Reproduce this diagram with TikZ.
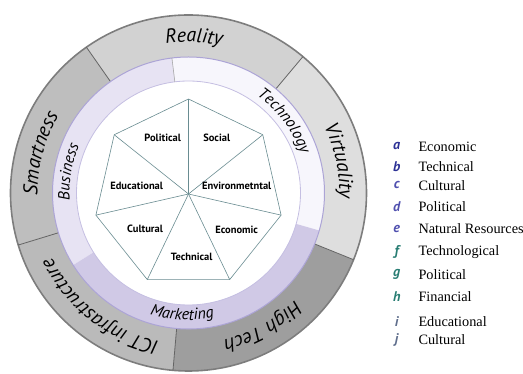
\documentclass[tikz,border=0pt]{standalone}
\usepackage{fontspec}
\setmainfont{Liberation Serif}
\newfontfamily\ptsans{PT Sans}
\usepackage{tikz}
\usetikzlibrary{decorations.text}

\definecolor{ringline}{RGB}{125,125,125}
\definecolor{realitygray}{RGB}{210,210,210}
\definecolor{smartgray}{RGB}{190,190,190}
\definecolor{ictgray}{RGB}{186,186,186}
\definecolor{techgray}{RGB}{158,158,158}
\definecolor{virtualgray}{RGB}{222,222,222}
\definecolor{businesslav}{RGB}{231,227,243}
\definecolor{technolav}{RGB}{247,246,252}
\definecolor{marketlav}{RGB}{208,201,230}
\definecolor{lavline}{RGB}{172,164,214}
\definecolor{heptline}{RGB}{105,140,145}
\definecolor{keyblue}{RGB}{45,50,150}
\definecolor{keyviolet}{RGB}{80,80,175}
\definecolor{keyteal}{RGB}{40,125,115}
\definecolor{keygray}{RGB}{95,110,140}

\newcommand{\ringfont}{\ptsans\itshape\fontsize{20}{20}\selectfont}
\newcommand{\midfont}{\ptsans\itshape\fontsize{16}{16}\selectfont}
% ring piece: colour, start angle, end angle, inner and outer radius
\newcommand{\ringpiece}[5]{%
  \fill[#1] (#2:#4) arc[start angle=#2, end angle=#3, radius=#4]
    -- (#3:#5) arc[start angle=#3, end angle=#2, radius=#5] -- cycle;}

\begin{document}
\begin{tikzpicture}[x=1pt,y=1pt]

\tikzstyle{every node}=[font=\ptsans\bfseries\fontsize{10.5}{12}\selectfont]
\tikzstyle{ringtext}=[decorate, decoration={text along path, text align=center}]
\tikzstyle{keyletter}=[font=\ptsans\bfseries\itshape\fontsize{14}{14}\selectfont]
\tikzstyle{keyentry}=[anchor=west, font=\rmfamily\fontsize{14.3}{15}\selectfont, inner sep=0pt]

\useasboundingbox (-188.5,-181) rectangle (334.5,193);

% outer ring
\ringpiece{realitygray}{50}{125}{136}{178}
\ringpiece{smartgray}{125}{197}{136}{178}
\ringpiece{ictgray}{197}{265}{136}{178}
\ringpiece{techgray}{265}{338}{136}{178}
\ringpiece{virtualgray}{338}{410}{136}{178}
\draw[ringline, line width=1.6pt] (0,0) circle (178);
\draw[ringline!80!black, line width=0.8pt] (50:136) -- (50:178);
\draw[ringline!80!black, line width=0.8pt] (125:136) -- (125:178);
\draw[ringline!80!black, line width=0.8pt] (197:136) -- (197:178);
\draw[ringline!80!black, line width=0.8pt] (265:136) -- (265:178);
\draw[ringline!80!black, line width=0.8pt] (338:136) -- (338:178);

% middle ring
\ringpiece{technolav}{-16}{97}{112}{136}
\ringpiece{businesslav}{97}{212}{112}{136}
\ringpiece{marketlav}{212}{344}{112}{136}
\draw[lavline, line width=1pt] (0,0) circle (136);
\draw[lavline!70, line width=0.8pt] (0,0) circle (112);
\draw[gray!70, line width=0.6pt] (97:112) -- (97:136);

% ring labels, all but one running clockwise
\path[ringtext, decoration={text={|\ringfont|Reality}}]
	(125:151) arc[start angle=125, end angle=51, radius=151];
\path[ringtext, decoration={text={|\ringfont|Smartness}}]
	(200:151) arc[start angle=200, end angle=130, radius=151];
\path[ringtext, decoration={text={|\ringfont|ICT infrastructure}}]
	(268:151) arc[start angle=268, end angle=196, radius=151];
\path[ringtext, decoration={text={|\ringfont|High Tech}}]
	(-26:151) arc[start angle=-26, end angle=-96, radius=151];
\path[ringtext, decoration={text={|\ringfont|Virtuality}}]
	(47:151) arc[start angle=47, end angle=-23, radius=151];
\path[ringtext, decoration={text={|\midfont|Business}}]
	(205:119) arc[start angle=205, end angle=135, radius=119];
\path[ringtext, decoration={text={|\midfont|Technology}}]
	(72:119) arc[start angle=72, end angle=2, radius=119];
\path[ringtext, decoration={text={|\midfont|Marketing}}]
	(-125:127) arc[start angle=-125, end angle=-61, radius=127];

% heptagon with its seven spokes
\begin{scope}[shift={(0,-1)}]
\coordinate (hc) at (0,0);
\coordinate (v1) at (90:95);
\coordinate (v2) at (38.57:95);
\coordinate (v3) at (-12.86:95);
\coordinate (v4) at (-64.29:95);
\coordinate (v5) at (-115.71:95);
\coordinate (v6) at (-167.14:95);
\coordinate (v7) at (141.43:95);
\end{scope}
\draw[heptline, line width=0.6pt, fill=white]
	(v1) -- (v2) -- (v3) -- (v4) -- (v5) -- (v6) -- (v7) -- cycle;
\draw[heptline, line width=0.6pt] (hc) -- (v1);
\draw[heptline, line width=0.6pt] (hc) -- (v2);
\draw[heptline, line width=0.6pt] (hc) -- (v3);
\draw[heptline, line width=0.6pt] (hc) -- (v4);
\draw[heptline, line width=0.6pt] (hc) -- (v5);
\draw[heptline, line width=0.6pt] (hc) -- (v6);
\draw[heptline, line width=0.6pt] (hc) -- (v7);

\node (political) at (-25.8,54.7) {Political};
\node (social) at (28.2,54.7) {Social};
\node (environ) at (48.2,7) {Environmetntal};
\node (economic) at (48.2,-37) {Economic};
\node (technical) at (3.2,-63.7) {Technical};
\node (cultural) at (-43.5,-36.3) {Cultural};
\node (educational) at (-51.8,7) {Educational};

% key
\node[keyletter, text=keyblue] (ka) at (208.2,46.5) {a};
\node[keyentry] (kta) at (229.8,46.5) {Economic};
\node[keyletter, text=keyblue] (kb) at (208.2,26.5) {b};
\node[keyentry] (ktb) at (229.8,26.5) {Technical};
\node[keyletter, text=keyviolet] (kc) at (208.2,7.5) {c};
\node[keyentry] (ktc) at (229.8,7.5) {Cultural};
\node[keyletter, text=keyviolet] (kd) at (208.2,-14) {d};
\node[keyentry] (ktd) at (229.8,-14) {Political};
\node[keyletter, text=keyviolet] (ke) at (208.2,-36) {e};
\node[keyentry] (kte) at (229.8,-36) {Natural Resources};
\node[keyletter, text=keyteal] (kf) at (208.2,-59) {f};
\node[keyentry] (ktf) at (229.8,-59) {Technological};
\node[keyletter, text=keyteal] (kg) at (208.2,-81.5) {g};
\node[keyentry] (ktg) at (229.8,-81.5) {Political};
\node[keyletter, text=keyteal] (kh) at (208.2,-103.5) {h};
\node[keyentry] (kth) at (229.8,-103.5) {Financial};
\node[keyletter, text=keygray] (ki) at (208.2,-128.7) {i};
\node[keyentry] (kti) at (229.8,-128.7) {Educational};
\node[keyletter, text=keygray] (kj) at (208.2,-147) {j};
\node[keyentry] (ktj) at (229.8,-147) {Cultural};
\end{tikzpicture}
\end{document}
